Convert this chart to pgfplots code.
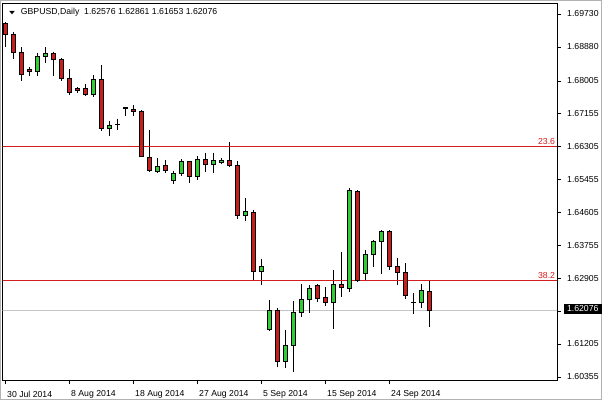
\documentclass[border=0pt]{standalone}
\usepackage{pgfplots}
\pgfplotsset{compat=1.18}
\usepackage{pgfplotstable}
\usepackage{fontspec}
\setmainfont{Liberation Sans}
\definecolor{cred}{RGB}{200,30,30}
\definecolor{cgreen}{RGB}{50,205,50}
\definecolor{fibred}{RGB}{210,30,30}
\newcommand\chartfont{\fontsize{8.7}{10}\selectfont}
\pgfplotstableread{
i O H L C
0 1.69490 1.69524 1.68887 1.69207
1 1.69207 1.69258 1.68562 1.68743
2 1.68743 1.68872 1.68011 1.68183
3 1.68312 1.68356 1.68139 1.68243
4 1.68243 1.68732 1.68139 1.68647
5 1.68640 1.68872 1.68459 1.68717
6 1.68717 1.68758 1.68139 1.68562
7 1.68562 1.68596 1.68011 1.68062
8 1.68062 1.68304 1.67642 1.67711
9 1.67804 1.67840 1.67686 1.67763
10 1.67797 1.67938 1.67629 1.67650
11 1.67650 1.68150 1.67583 1.68054
12 1.68047 1.68415 1.66714 1.66783
13 1.66783 1.66972 1.66577 1.66856
14 1.66887 1.67031 1.66740 1.66880
15 1.67314 1.67325 1.67113 1.67299
16 1.67273 1.67379 1.67108 1.67222
17 1.67229 1.67255 1.66056 1.66069
18 1.66036 1.66740 1.65665 1.65683
19 1.65665 1.66010 1.65639 1.65804
20 1.65830 1.65958 1.65623 1.65690
21 1.65443 1.65690 1.65340 1.65623
22 1.65623 1.65992 1.65561 1.65915
23 1.65915 1.65940 1.65365 1.65546
24 1.65546 1.66069 1.65443 1.65984
25 1.65984 1.66154 1.65665 1.65863
26 1.65855 1.66154 1.65623 1.65958
27 1.65907 1.66010 1.65855 1.65966
28 1.65958 1.66438 1.65778 1.65819
29 1.65830 1.65933 1.64437 1.64541
30 1.64541 1.64979 1.64401 1.64626
31 1.64618 1.64677 1.62873 1.63097
32 1.63097 1.63422 1.62744 1.63233
33 1.61602 1.62357 1.61566 1.62091
34 1.62091 1.62158 1.60637 1.60766
35 1.60766 1.61584 1.60596 1.61197
36 1.61179 1.62331 1.60493 1.62040
37 1.62030 1.62769 1.61926 1.62375
38 1.62375 1.62744 1.62030 1.62666
39 1.62736 1.62769 1.62313 1.62401
40 1.62409 1.62684 1.62210 1.62298
41 1.62298 1.63130 1.61602 1.62762
42 1.62762 1.63594 1.62442 1.62684
43 1.62659 1.65237 1.62571 1.65185
44 1.65167 1.65193 1.62834 1.62855
45 1.63045 1.63646 1.62873 1.63535
46 1.63535 1.63904 1.63215 1.63878
47 1.63878 1.64162 1.63027 1.64118
48 1.64118 1.64162 1.63130 1.63215
49 1.63226 1.63447 1.62744 1.63071
50 1.63071 1.63303 1.62375 1.62478
51 1.62298 1.62530 1.61996 1.62290
52 1.62298 1.62762 1.62143 1.62597
53 1.62576 1.62861 1.61653 1.62076
}\candles
\pgfplotstableread{
x y
-1 1.66319
70 1.66319
}\fibA
\pgfplotstableread{
x y
-1 1.62865
70 1.62865
}\fibB
\begin{document}
\begin{tikzpicture}
\fill[white] (0,0) rectangle (602pt,400pt);
\draw[gray!60, line width=1pt] (0.5pt,0.5pt) rectangle (601.5pt,399.5pt);
\path[use as bounding box] (0,0) rectangle (602pt,400pt);
\pgfplotsset{candleaxis/.style={scale only axis, width=554.5pt, height=376pt,
  at={(2.5pt,20pt)}, anchor=south west,
  xmin=-0.375, xmax=68.94, ymin=1.60295, ymax=1.69988}}
\begin{axis}[candleaxis,
  axis line style={black, line width=1pt},
  tick align=outside, xtick pos=bottom, ytick pos=right, yticklabel pos=right,
  major tick length=4pt, tick style={black, line width=0.8pt},
  xtick={0,8,16,24,32,40,48},
  xticklabels={30 Jul 2014, 8 Aug 2014, 18 Aug 2014, 27 Aug 2014, 5 Sep 2014, 15 Sep 2014, 24 Sep 2014},
  xticklabel style={anchor=west, inner sep=0pt, xshift=1.5pt, yshift=-10pt, font=\chartfont},
  ytick={1.60355,1.61205,1.62905,1.63755,1.64605,1.65455,1.66305,1.67155,1.68005,1.68880,1.69730},
  yticklabels={1.60355,1.61205,1.62905,1.63755,1.64605,1.65455,1.66305,1.67155,1.68005,1.68880,1.69730},
  yticklabel style={anchor=west, inner sep=0pt, xshift=6pt, yshift=0.7pt, font=\chartfont},
  extra y ticks={1.62076}, extra y tick labels={1.62076},
  extra y tick style={yticklabel style={fill=black, text=white, inner xsep=3.5pt, inner ysep=2pt, xshift=-3.7pt, yshift=1.5pt}},
]
\addplot[gray!45, line width=1pt] coordinates {(-1,1.62076) (70,1.62076)};
\addplot[draw=none, mark=none, error bars/.cd, y dir=minus, y explicit, error mark=none,
  error bar style={draw=black, solid, line width=1pt}]
  table[x=i, y=H, y error expr=\thisrow{H}-\thisrow{L}] {\candles};
\addplot[color=fibred, line width=1pt, mark=none] table {\fibA};
\addplot[color=fibred, line width=1pt, mark=none] table {\fibB};
\node[anchor=south east, text=fibred, inner sep=0pt, font=\chartfont] at (axis cs:68.72,1.66319) [yshift=1.5pt] {23.6};
\node[anchor=south east, text=fibred, inner sep=0pt, font=\chartfont] at (axis cs:68.72,1.62865) [yshift=1.5pt] {38.2};
\end{axis}
\begin{axis}[candleaxis, hide axis, ybar stacked, bar width=0.47]
\addplot[draw=none, fill=none] table[x=i, y expr={min(\thisrow{O},\thisrow{C})}] {\candles};
\addplot[draw=black, fill=cred, line width=1pt] table[x=i, y expr={max(\thisrow{O}-\thisrow{C},0)}] {\candles};
\addplot[draw=black, fill=cgreen, line width=1pt] table[x=i, y expr={max(\thisrow{C}-\thisrow{O},0)}] {\candles};
\end{axis}
\fill[black] (9.3pt,389pt) -- (14.7pt,389pt) -- (12pt,385.7pt) -- cycle;
\node[anchor=west, inner sep=0pt, font=\chartfont] at (20.7pt,387.3pt) {GBPUSD,Daily\ \ 1.62576 1.62861 1.61653 1.62076};
\end{tikzpicture}
\end{document}
